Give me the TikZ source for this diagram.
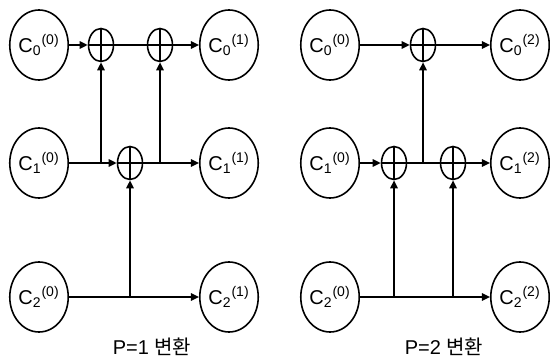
\documentclass[tikz,border=0pt]{standalone}
\usepackage{fontspec}
\setmainfont{Liberation Sans}
\newfontfamily\krfont{Noto Sans CJK KR}
\usetikzlibrary{arrows.meta,shapes.geometric}

\newcommand{\chlab}[2]{C\textsubscript{#1}\textsuperscript{(#2)}}

\begin{document}
\begin{tikzpicture}[
    x=0.5pt, y=-0.5pt,
    font=\fontsize{10}{12}\selectfont,
    >={Triangle[length=4pt, width=3.6pt]},
    chan/.style={draw, ellipse, line width=0.8pt, minimum width=27pt,
                 minimum height=35pt, inner sep=0pt},
    add/.style={draw, ellipse, line width=0.8pt, minimum width=12.5pt,
                minimum height=16.5pt, inner sep=0pt,
                path picture={\draw[line width=0.7pt]
                  (path picture bounding box.north) -- (path picture bounding box.south)
                  (path picture bounding box.west) -- (path picture bounding box.east);}},
    flow/.style={->, line width=1pt},
    link/.style={line width=1pt},
  ]
    \useasboundingbox (0,0) rectangle (550,358);

    % --- P=1 transform ---------------------------------------------------
    \node[chan] (a00) at (39,45)  {\chlab{0}{0}};
    \node[chan] (a10) at (39,163) {\chlab{1}{0}};
    \node[chan] (a20) at (39,297) {\chlab{2}{0}};
    \node[chan] (a01) at (229,45)  {\chlab{0}{1}};
    \node[chan] (a11) at (229,163) {\chlab{1}{1}};
    \node[chan] (a21) at (229,297) {\chlab{2}{1}};

    \node[add] (p1) at (101,45) {};
    \node[add] (p2) at (160,45) {};
    \node[add] (p3) at (130,163) {};

    \node (cap1) at (152,347) {P=1 {\krfont 변환}};

    \draw[flow] (a00) -- (p1);
    \draw[link] (p1) -- (p2);
    \draw[flow] (p2) -- (a01);
    \draw[flow] (a10) -- (p3);
    \draw[flow] (p3) -- (a11);
    \draw[flow] (a20) -- (a21);
    \draw[flow] (p1 |- a10) -- (p1);
    \draw[flow] (p2 |- a10) -- (p2);
    \draw[flow] (p3 |- a20) -- (p3);

    % --- P=2 transform ---------------------------------------------------
    \node[chan] (b00) at (330,45)  {\chlab{0}{0}};
    \node[chan] (b10) at (330,163) {\chlab{1}{0}};
    \node[chan] (b20) at (330,297) {\chlab{2}{0}};
    \node[chan] (b02) at (520,45)  {\chlab{0}{2}};
    \node[chan] (b12) at (520,163) {\chlab{1}{2}};
    \node[chan] (b22) at (520,297) {\chlab{2}{2}};

    \node[add] (q1) at (423,45) {};
    \node[add] (q2) at (394,163) {};
    \node[add] (q3) at (453,163) {};

    \node (cap2) at (444,347) {P=2 {\krfont 변환}};

    \draw[flow] (b00) -- (q1);
    \draw[flow] (q1) -- (b02);
    \draw[flow] (b10) -- (q2);
    \draw[link] (q2) -- (q3);
    \draw[flow] (q3) -- (b12);
    \draw[flow] (b20) -- (b22);
    \draw[flow] (q1 |- b10) -- (q1);
    \draw[flow] (q2 |- b20) -- (q2);
    \draw[flow] (q3 |- b20) -- (q3);
\end{tikzpicture}
\end{document}
